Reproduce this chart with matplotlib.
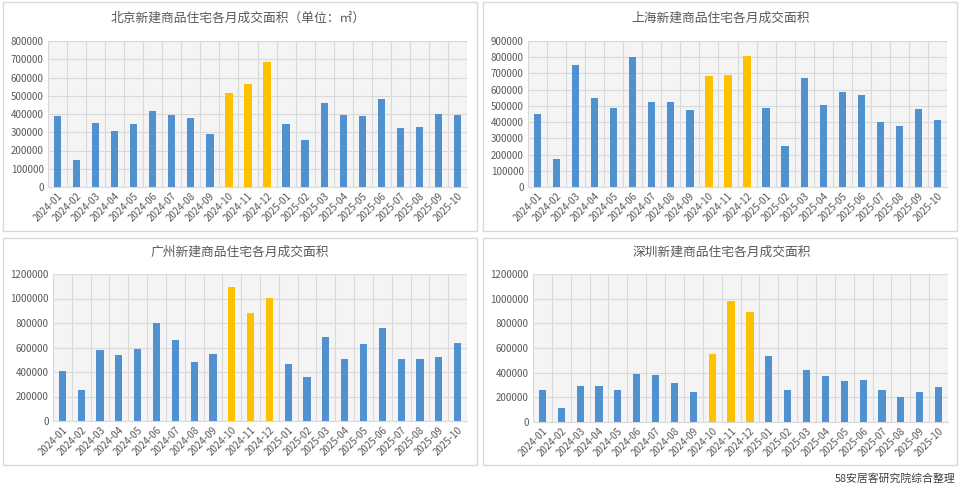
import matplotlib
matplotlib.use("Agg")
import matplotlib.pyplot as plt
from matplotlib.patches import Rectangle
import numpy as np

plt.rcParams['font.family'] = ['Noto Sans CJK SC', 'DejaVu Sans']

months = ["2024-01", "2024-02", "2024-03", "2024-04", "2024-05", "2024-06",
          "2024-07", "2024-08", "2024-09", "2024-10", "2024-11", "2024-12",
          "2025-01", "2025-02", "2025-03", "2025-04", "2025-05", "2025-06",
          "2025-07", "2025-08", "2025-09", "2025-10"]
highlight = ["2024-10", "2024-11", "2024-12"]

beijing = [390000, 148000, 350000, 305000, 343000, 418000, 392000, 378000, 290000,
           517000, 563000, 685000, 347000, 258000, 460000, 395000, 387000, 482000,
           323000, 330000, 400000, 392000]
shanghai = [448000, 175000, 755000, 547000, 487000, 800000, 522000, 527000, 472000,
            685000, 688000, 808000, 487000, 252000, 673000, 505000, 588000, 570000,
            403000, 373000, 482000, 410000]
guangzhou = [405000, 252000, 578000, 535000, 585000, 800000, 662000, 478000, 545000,
             1095000, 882000, 1002000, 468000, 358000, 688000, 510000, 628000, 758000,
             505000, 510000, 520000, 640000]
shenzhen = [262000, 112000, 292000, 288000, 258000, 393000, 380000, 320000, 245000,
            550000, 978000, 895000, 532000, 258000, 425000, 375000, 333000, 343000,
            263000, 202000, 245000, 285000]

titles = ["北京新建商品住宅各月成交面积（单位：㎡）", "上海新建商品住宅各月成交面积",
          "广州新建商品住宅各月成交面积", "深圳新建商品住宅各月成交面积"]
ymaxs = [800000, 900000, 1200000, 1200000]
ysteps = [100000, 100000, 200000, 200000]
source = "58安居客研究院综合整理"

BLUE = "#5092cf"
GOLD = "#ffc000"
TXT = "#595959"

W, H = 960, 488
fig = plt.figure(figsize=(9.6, 4.88), dpi=100)
fig.patch.set_facecolor("white")

def px_axes(l, t, r, b):
    return fig.add_axes([l / W, 1 - b / H, (r - l) / W, (b - t) / H])

panels = [(3, 2, 477, 231), (483, 2, 957, 231), (3, 238, 477, 465), (483, 238, 957, 465)]
plots = [(48, 41, 467, 187), (528, 41, 947, 187), (53, 274, 467, 421), (533, 274, 948, 422)]
title_pos = [(238, 18), (721, 18), (240, 252), (722, 252)]
data = [beijing, shanghai, guangzhou, shenzhen]

for (l, t, r, b) in panels:
    fig.patches.append(Rectangle((l / W, 1 - b / H), (r - l) / W, (b - t) / H,
                                 transform=fig.transFigure, facecolor="none",
                                 edgecolor="#d9d9d9", linewidth=1.0, zorder=-10))

x = np.arange(len(months))
for i in range(4):
    ax = px_axes(*plots[i])
    ax.set_zorder(1)
    ax.set_facecolor("#f4f4f4")
    colors = [GOLD if m in highlight else BLUE for m in months]
    ax.bar(x, data[i], width=0.38, color=colors, zorder=3)
    ax.set_xlim(-0.5, len(months) - 0.5)
    ax.set_ylim(0, ymaxs[i])
    yt = np.arange(0, ymaxs[i] + 1, ysteps[i])
    ax.set_yticks(yt)
    ax.set_yticklabels([str(int(v)) for v in yt])
    ax.set_xticks(x)
    ax.set_xticklabels(months, rotation=45, ha="right", rotation_mode="anchor")
    ax.set_xticks(np.arange(-0.5, len(months), 1), minor=True)
    ax.tick_params(axis="both", which="both", length=0, labelsize=7, colors=TXT, pad=3)
    ax.grid(True, axis="y", which="major", color="#d9d9d9", linewidth=0.8, zorder=0)
    ax.grid(True, axis="x", which="minor", color="#d9d9d9", linewidth=0.8, zorder=0)
    ax.grid(False, axis="x", which="major")
    for s in ["top", "right", "left"]:
        ax.spines[s].set_visible(False)
    ax.spines["bottom"].set_color("#d9d9d9")
    ax.set_axisbelow(True)
    tx, ty = title_pos[i]
    fig.text(tx / W, 1 - ty / H, titles[i], ha="center", va="center",
             fontsize=9.2, color=TXT)

fig.text(956 / W, 1 - 478 / H, source, ha="right", va="center", fontsize=7.8, color="#404040")

fig.savefig("out.png", dpi=100)
